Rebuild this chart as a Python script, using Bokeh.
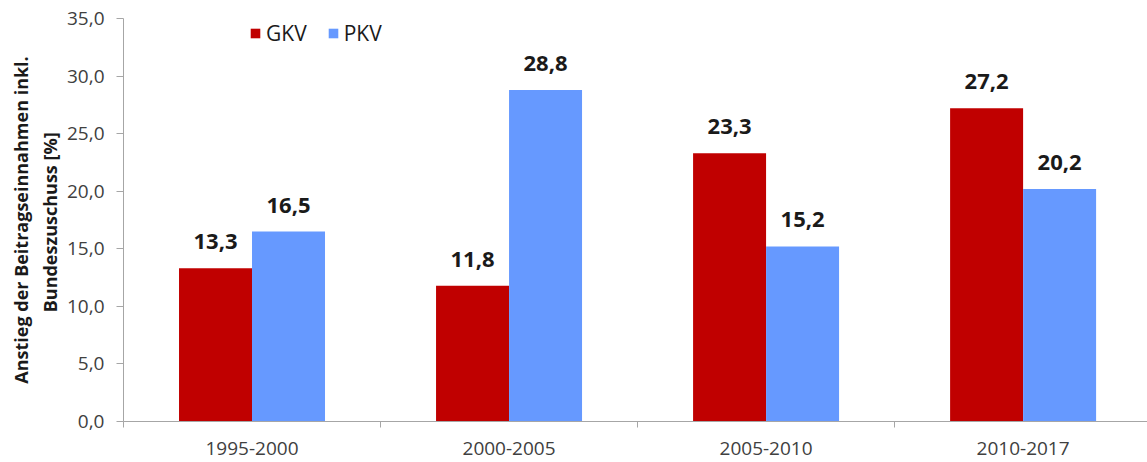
from bokeh.plotting import figure
from bokeh.models import ColumnDataSource, Range1d, FixedTicker, Legend, LegendItem
from bokeh.core.properties import value
from bokeh.embed import file_html
from bokeh.resources import INLINE

periods = ["1995-2000", "2000-2005", "2005-2010", "2010-2017"]
gkv = [13.3, 11.8, 23.3, 27.2]
pkv = [16.5, 28.8, 15.2, 20.2]
y_ticks = [0, 5, 10, 15, 20, 25, 30, 35]

GKV_COLOR = "#C00000"
PKV_COLOR = "#6699FF"
FONT = "Open Sans"

centers = [i + 0.5 for i in range(len(periods))]
bw = 0.284
off = bw / 2

src_g = ColumnDataSource(dict(x=[c - off for c in centers], top=gkv,
                              lab=[f"{v:.1f}".replace(".", ",") for v in gkv]))
src_p = ColumnDataSource(dict(x=[c + off for c in centers], top=pkv,
                              lab=[f"{v:.1f}".replace(".", ",") for v in pkv]))

p = figure(width=1147, height=462, output_backend="svg", toolbar_location=None,
           x_range=Range1d(0, 3.984), y_range=Range1d(0, 35),
           min_border_left=123, min_border_top=18, min_border_bottom=41, min_border_right=0)
p.outline_line_color = None
p.xgrid.visible = False
p.ygrid.visible = False

rg = p.vbar(x="x", top="top", width=bw, source=src_g, fill_color=GKV_COLOR, line_color=None)
rp = p.vbar(x="x", top="top", width=bw, source=src_p, fill_color=PKV_COLOR, line_color=None)

for s in (src_g, src_p):
    p.text(x="x", y="top", text="lab", source=s, text_align="center", text_baseline="bottom",
           y_offset=-19, text_font=value(FONT), text_font_style="bold",
           text_font_size="22px", text_color="#1a1a1a")

# x axis
xa = p.xaxis[0]
xa.ticker = FixedTicker(ticks=centers, minor_ticks=list(range(len(periods) + 1)))
xa.major_label_overrides = {c: lab for c, lab in zip(centers, periods)}
xa.major_tick_out = 0
xa.major_tick_in = 0
xa.minor_tick_out = 6
xa.minor_tick_in = 0
xa.minor_tick_line_color = "#a6a6a6"
xa.axis_line_color = "#a6a6a6"
xa.major_label_text_font = FONT
xa.major_label_text_font_size = "19px"
xa.major_label_text_color = "#404040"
xa.major_label_standoff = 14

# y axis
ya = p.yaxis[0]
ya.ticker = FixedTicker(ticks=y_ticks)
ya.major_label_overrides = {t: f"{t:.1f}".replace(".", ",") for t in y_ticks}
ya.minor_tick_line_color = None
ya.major_tick_out = 7
ya.major_tick_in = 0
ya.major_tick_line_color = "#a6a6a6"
ya.axis_line_color = "#a6a6a6"
ya.major_label_text_font = FONT
ya.major_label_text_font_size = "19px"
ya.major_label_text_color = "#404040"
ya.major_label_standoff = 12
ya.axis_label = "Anstieg der Beitragseinnahmen inkl.\nBundeszuschuss  [%]"
ya.axis_label_text_font = FONT
ya.axis_label_text_font_style = "bold"
ya.axis_label_text_font_size = "18px"
ya.axis_label_text_color = "#1a1a1a"
ya.axis_label_standoff = 2

legend = Legend(items=[LegendItem(label="GKV", renderers=[rg]),
                       LegendItem(label="PKV", renderers=[rp])],
                orientation="horizontal", location=(126, 374))
legend.padding = 0
legend.margin = 0
legend.spacing = 20
legend.glyph_width = 12
legend.glyph_height = 12
legend.label_standoff = 5
legend.label_text_font = FONT
legend.label_text_font_size = "21px"
legend.label_text_color = "#1a1a1a"
legend.border_line_color = None
legend.background_fill_alpha = 0
p.add_layout(legend, "center")

open("out.html", "w").write(file_html(p, INLINE))
